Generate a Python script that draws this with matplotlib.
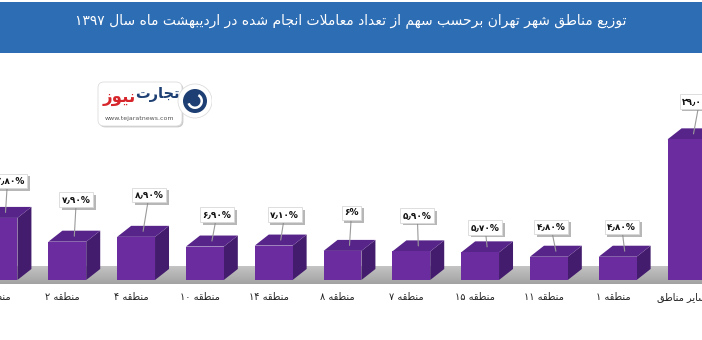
import re
import numpy as np
import matplotlib
matplotlib.use('Agg')
import matplotlib.pyplot as plt
from matplotlib.colors import LinearSegmentedColormap
from matplotlib.patches import Polygon, Rectangle, FancyBboxPatch, Circle, Wedge
import matplotlib.patheffects as pe

plt.rcParams['font.family'] = ['DejaVu Sans']

title = 'توزیع مناطق شهر تهران برحسب سهم از تعداد معاملات انجام شده در اردیبهشت ماه سال ۱۳۹۷'
regions = ['منطقه ۵', 'منطقه ۲', 'منطقه ۴', 'منطقه ۱۰', 'منطقه ۱۴', 'منطقه ۸',
           'منطقه ۷', 'منطقه ۱۵', 'منطقه ۱۱', 'منطقه ۱', 'سایر مناطق']
shares = [12.8, 7.9, 8.9, 6.9, 7.1, 6.0, 5.9, 5.7, 4.8, 4.8, 29.0]
share_labels = ['۱۲٫۸۰%', '۷٫۹۰%', '۸٫۹۰%', '۶٫۹۰%', '۷٫۱۰%', '۶%',
                '۵٫۹۰%', '۵٫۷۰%', '۴٫۸۰%', '۴٫۸۰%', '۲۹٫۰۰%']

# label box offsets (pixels) from the bar's front-top centre
label_offsets = [(9, 37), (9, 42), (13, 42), (12, 32), (11, 31), (9, 38),
                 (6, 36), (5, 25), (2, 30), (4, 30), (13, 38)]

# arabic presentation forms: isolated, final, initial, medial
FORMS = {
    'ا': ('\uFE8D', '\uFE8E', None, None),
    'ب': ('\uFE8F', '\uFE90', '\uFE91', '\uFE92'),
    'ت': ('\uFE95', '\uFE96', '\uFE97', '\uFE98'),
    'ج': ('\uFE9D', '\uFE9E', '\uFE9F', '\uFEA0'),
    'ح': ('\uFEA1', '\uFEA2', '\uFEA3', '\uFEA4'),
    'د': ('\uFEA9', '\uFEAA', None, None),
    'ر': ('\uFEAD', '\uFEAE', None, None),
    'ز': ('\uFEAF', '\uFEB0', None, None),
    'س': ('\uFEB1', '\uFEB2', '\uFEB3', '\uFEB4'),
    'ش': ('\uFEB5', '\uFEB6', '\uFEB7', '\uFEB8'),
    'ط': ('\uFEC1', '\uFEC2', '\uFEC3', '\uFEC4'),
    'ع': ('\uFEC9', '\uFECA', '\uFECB', '\uFECC'),
    'ق': ('\uFED5', '\uFED6', '\uFED7', '\uFED8'),
    'ل': ('\uFEDD', '\uFEDE', '\uFEDF', '\uFEE0'),
    'م': ('\uFEE1', '\uFEE2', '\uFEE3', '\uFEE4'),
    'ن': ('\uFEE5', '\uFEE6', '\uFEE7', '\uFEE8'),
    'ه': ('\uFEE9', '\uFEEA', '\uFEEB', '\uFEEC'),
    'و': ('\uFEED', '\uFEEE', None, None),
    'ی': ('\uFBFC', '\uFBFD', '\uFBFE', '\uFBFF'),
}


def shape(text):
    # pick joined letter forms, then put runs in visual (right-to-left) order
    out = []
    n = len(text)
    i = 0
    while i < n:
        c = text[i]
        if c not in FORMS:
            out.append(c)
            i += 1
            continue
        prev = text[i - 1] if i > 0 else None
        prev_joins = prev in FORMS and FORMS[prev][2] is not None
        if c == 'ل' and i + 1 < n and text[i + 1] == 'ا':
            out.append('\uFEFC' if prev_joins else '\uFEFB')
            i += 2
            continue
        nxt = text[i + 1] if i + 1 < n else None
        can_next = FORMS[c][2] is not None and nxt in FORMS
        iso, fin, ini, med = FORMS[c]
        if prev_joins and can_next:
            out.append(med)
        elif prev_joins:
            out.append(fin)
        elif can_next:
            out.append(ini)
        else:
            out.append(iso)
        i += 1
    s = ''.join(out)
    runs = re.findall(r'[0-9۰-۹٫.%]+|[^0-9۰-۹٫.%]+', s)
    return ''.join(r if re.match(r'[0-9۰-۹]', r) else r[::-1] for r in reversed(runs))


fig = plt.figure(figsize=(7.02, 3.40), dpi=100)
fig.patch.set_facecolor('white')

# pixel geometry of the original
px_cat = 68.8
px_pct = 4.85
base_px = 280
ax = fig.add_axes([0, 0, 1, 1])
ax.set_xlim(1.5 / px_cat, 703.5 / px_cat)
ax.set_ylim(-(340 - base_px) / px_pct, base_px / px_pct)
ax.axis('off')

x = np.arange(len(shares))
w = 0.55
dx = 14 / px_cat
dy = 11 / px_pct

# floor band
grad = np.linspace(0, 1, 50).reshape(-1, 1)
ax.imshow(grad, cmap=LinearSegmentedColormap.from_list('floor', ['#c4c4c4', '#a2a2a2']),
          extent=(0, 11, -4 / px_pct, 13 / px_pct), aspect='auto', origin='upper', zorder=0)

front_c = '#6a2c9f'
top_c = '#57248a'
side_c = '#441c6e'
ax.bar(x, shares, width=w, color=front_c, zorder=3)
for xi, h in zip(x, shares):
    r = xi + w / 2
    l = xi - w / 2
    ax.add_patch(Polygon([(r, 0), (r + dx, dy), (r + dx, h + dy), (r, h)],
                         closed=True, fc=side_c, ec='none', zorder=2))
    ax.add_patch(Polygon([(l, h), (r, h), (r + dx, h + dy), (l + dx, h + dy)],
                         closed=True, fc=top_c, ec='none', zorder=2))

for xi, h, lab, (ox, oy) in zip(x, shares, share_labels, label_offsets):
    t = ax.annotate(lab, xy=(xi + dx / 2, h + dy / 2),
                    xytext=(ox - 7, oy - 5.5), textcoords='offset pixels',
                    ha='center', va='center', fontsize=6.5, weight='bold',
                    color='#111111', zorder=6,
                    bbox=dict(boxstyle='square,pad=0.3', fc='white', ec='#d8d8d8', lw=0.6),
                    arrowprops=dict(arrowstyle='-', color='#9a9a9a', lw=0.8,
                                    shrinkA=0, shrinkB=0))
    t.get_bbox_patch().set_path_effects([
        pe.withSimplePatchShadow(offset=(2, -2), shadow_rgbFace='#888888', alpha=0.6)])

for xi, name in zip(x, regions):
    ax.text(xi - 0.07, -17 / px_pct, shape(name), ha='center', va='center',
            fontsize=7, color='#222222', zorder=5)

# title band
fig.patches.append(Rectangle((0, 1 - 53 / 340), 1, 51 / 340, transform=fig.transFigure,
                             fc='#2d6db4', ec='none', zorder=1))
fig.text(0.5, 1 - 21 / 340, shape(title), color='white', fontsize=10,
         ha='center', va='center', zorder=2)

# logo
lax = fig.add_axes([92 / 702, 1 - 132 / 340, 120 / 702, 62 / 340])
lax.set_xlim(0, 120)
lax.set_ylim(0, 62)
lax.axis('off')
box = FancyBboxPatch((6, 6), 84, 44, boxstyle='round,pad=0,rounding_size=6',
                     fc='white', ec='#dddddd', lw=0.6)
box.set_path_effects([pe.withSimplePatchShadow(offset=(1, -1), shadow_rgbFace='#999999', alpha=0.5)])
lax.add_patch(box)
lax.add_patch(Circle((103, 31), 17, fc='white', ec='#dddddd', lw=0.6))
lax.add_patch(Circle((103, 31), 12, fc='#1d3f73', ec='none'))
lax.add_patch(Wedge((103, 31), 8, 200, 60, width=2.5, fc='white', ec='none'))
lax.text(65, 37, shape('تجارت'), color='#1d3f73', fontsize=10.5, weight='bold',
         ha='center', va='center')
lax.text(27, 35, shape('نیوز'), color='#d7262b', fontsize=12, weight='bold',
         ha='center', va='center')
lax.text(47, 13, 'www.tejaratnews.com', color='#555555', fontsize=4.5,
         ha='center', va='center')

fig.savefig('out.png', dpi=100)
